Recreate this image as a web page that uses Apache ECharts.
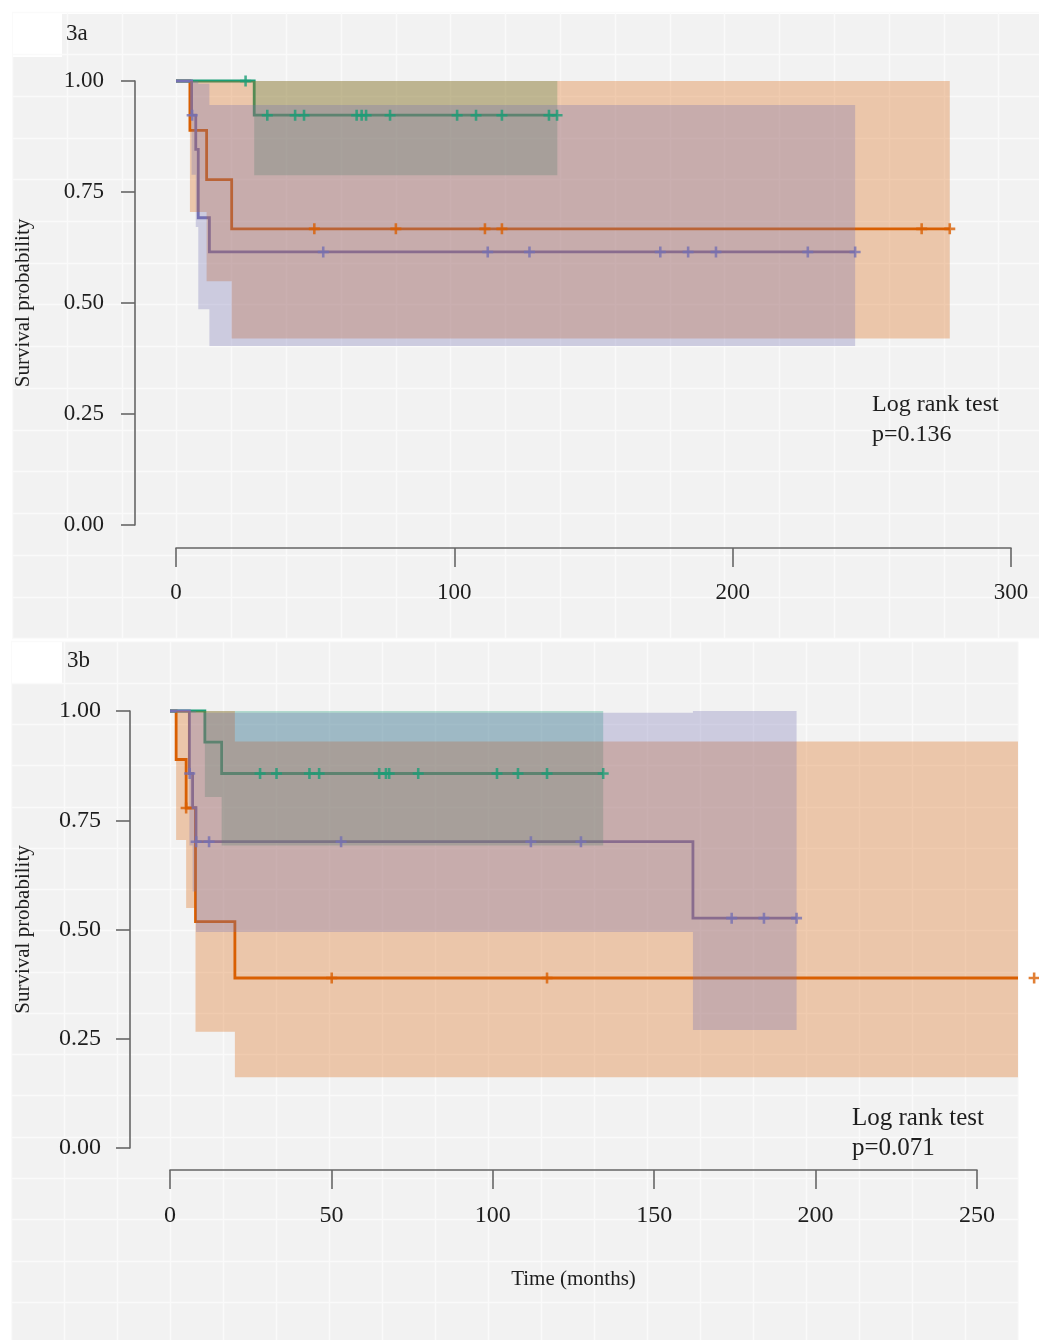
<!DOCTYPE html>
<html>
<head>
<meta charset="utf-8">
<script src="https://cdn.jsdelivr.net/npm/echarts@6/dist/echarts.min.js"></script>
<style>
  html, body { margin: 0; padding: 0; background: #fff; }
  #chart { width: 1039px; height: 1340px; }
</style>
</head>
<body>
<div id="chart"></div>
<script>
// ---- panel 3a : step curves (time, survival) and confidence bands ----
var aGreenT  = [0, 28.1, 137];
var aGreenS  = [1, 0.923, 0.923];
var aGreenLo = [1, 0.788, 0.788];
var aGreenUp = [1, 1, 1];
var aGreenCensT = [25, 32.8, 42.8, 46, 64.9, 66.7, 68.3, 76.9, 101, 107.8, 117.1, 134, 136.9];
var aGreenCensS = [1, 0.923, 0.923, 0.923, 0.923, 0.923, 0.923, 0.923, 0.923, 0.923, 0.923, 0.923, 0.923];

var aOrangeT  = [0, 5, 11, 20, 278];
var aOrangeS  = [1, 0.889, 0.778, 0.667, 0.667];
var aOrangeLo = [1, 0.705, 0.549, 0.42, 0.42];
var aOrangeUp = [1, 1, 1, 1, 1];
var aOrangeCensT = [49.7, 79, 111, 117.1, 267.9, 278];
var aOrangeCensS = [0.667, 0.667, 0.667, 0.667, 0.667, 0.667];

var aPurpleT  = [0, 5.6, 7.1, 8.0, 12.0, 244];
var aPurpleS  = [1, 0.923, 0.846, 0.692, 0.615, 0.615];
var aPurpleLo = [1, 0.789, 0.671, 0.486, 0.403, 0.403];
var aPurpleUp = [1, 1, 1, 0.994, 0.946, 0.946];
var aPurpleCensT = [5.8, 52.9, 112, 127, 174, 184, 194, 227, 244];
var aPurpleCensS = [0.923, 0.615, 0.615, 0.615, 0.615, 0.615, 0.615, 0.615, 0.615];

// ---- panel 3b ----
var bGreenT  = [0, 10.8, 16.0, 134.2];
var bGreenS  = [1, 0.929, 0.857, 0.857];
var bGreenLo = [1, 0.803, 0.692, 0.692];
var bGreenUp = [1, 1, 1, 1];
var bGreenCensT = [27.9, 33.0, 43.2, 46.2, 64.8, 66.9, 67.9, 76.9, 101.3, 107.8, 116.8, 134.2];
var bGreenCensS = [0.857, 0.857, 0.857, 0.857, 0.857, 0.857, 0.857, 0.857, 0.857, 0.857, 0.857, 0.857];

var bOrangeT  = [0, 1.9, 5.0, 7.9, 20.1, 262.7];
var bOrangeS  = [1, 0.889, 0.778, 0.518, 0.389, 0.389];
var bOrangeLo = [1, 0.705, 0.549, 0.266, 0.162, 0.162];
var bOrangeUp = [1, 1, 1, 1, 0.93, 0.93];
var bOrangeCensT = [5.0, 50.1, 116.8, 267.7];
var bOrangeCensS = [0.778, 0.389, 0.389, 0.389];

var bPurpleT  = [0, 6.0, 7.0, 8.05, 162, 194.1];
var bPurpleS  = [1, 0.857, 0.779, 0.701, 0.526, 0.526];
var bPurpleLo = [1, 0.692, 0.587, 0.494, 0.27, 0.27];
var bPurpleUp = [1, 1, 1, 0.996, 1, 1];
var bPurpleCensT = [6.1, 8.1, 12.1, 53, 111.8, 127.3, 174, 184, 194.1];
var bPurpleCensS = [0.857, 0.701, 0.701, 0.701, 0.701, 0.701, 0.526, 0.526, 0.526];

var panelLabels = ['3a', '3b'];
var logRank = [['Log rank test', 'p=0.136'], ['Log rank test', 'p=0.071']];
var xTicksA = [0, 300, 100];
var xTicksB = [0, 250, 50];

var GREEN = '#1b9e77', ORANGE = '#d95f02', PURPLE = '#7570b3';
var SERIF = '"Liberation Serif", "Times New Roman", serif';
var INK = '#1e1e1e';

function pairs(t, s) {
  return t.map(function (v, i) { return [v, s[i]]; });
}

// Kaplan-Meier step line (drawn as one polyline, not clamped to the axis range)
function curve(ax, t, s, color) {
  return {
    type: 'custom', xAxisIndex: ax, yAxisIndex: ax, silent: true, z: 2, clip: false,
    data: pairs(t, s),
    encode: { x: 0, y: 1 },
    renderItem: function (params, api) {
      if (params.dataIndexInside !== 0) return null;
      var n = params.dataInsideLength;
      var pts = [api.coord([api.value(0, 0), api.value(1, 0)])];
      for (var i = 1; i < n; i++) {
        pts.push(api.coord([api.value(0, i), api.value(1, i - 1)]));
        pts.push(api.coord([api.value(0, i), api.value(1, i)]));
      }
      return {
        type: 'polyline',
        shape: { points: pts },
        style: { stroke: color, lineWidth: 2.8, fill: null }
      };
    }
  };
}

// confidence band as one step polygon
function band(ax, t, lo, up, fill) {
  return {
    type: 'custom', xAxisIndex: ax, yAxisIndex: ax, silent: true, z: 3, clip: false,
    data: t.map(function (v, i) { return [v, lo[i], up[i]]; }),
    encode: { x: 0, y: [1, 2] },
    renderItem: function (params, api) {
      if (params.dataIndexInside !== 0) return null;
      var n = params.dataInsideLength;
      var top = [], bot = [];
      for (var i = 0; i < n - 1; i++) {
        var t0 = api.value(0, i), t1 = api.value(0, i + 1);
        top.push(api.coord([t0, api.value(2, i)]), api.coord([t1, api.value(2, i)]));
        bot.push(api.coord([t0, api.value(1, i)]), api.coord([t1, api.value(1, i)]));
      }
      return {
        type: 'polygon',
        shape: { points: top.concat(bot.reverse()) },
        style: { fill: fill }
      };
    }
  };
}

var PLUS = 'path://M-1.4,-6h2.8v4.6h4.6v2.8h-4.6v4.6h-2.8v-4.6h-4.6v-2.8h4.6z';
function censor(ax, t, s, color) {
  return {
    type: 'scatter', xAxisIndex: ax, yAxisIndex: ax, silent: true, z: 4, clip: false,
    symbol: PLUS, symbolSize: 11,
    data: pairs(t, s),
    itemStyle: { color: color }
  };
}

function xMain(grid, ticks, offset, margin, fs, name) {
  return {
    gridIndex: grid, type: 'value', min: ticks[0], max: ticks[1], interval: ticks[2],
    offset: offset, z: 6,
    axisLine: { show: true, onZero: false, lineStyle: { color: '#666', width: 1.6 } },
    axisTick: { show: true, length: 19, lineStyle: { color: '#666', width: 1.6 } },
    axisLabel: { margin: margin, fontSize: fs, color: INK, fontFamily: SERIF },
    splitLine: { show: false },
    name: name || '', nameLocation: 'middle', nameGap: 99,
    nameTextStyle: { fontSize: 21, color: INK, fontFamily: SERIF }
  };
}

function yMain(grid, offset, margin, fs, gap) {
  return {
    gridIndex: grid, type: 'value', min: 0, max: 1, interval: 0.25,
    offset: offset, z: 6,
    axisLine: { show: true, onZero: false, lineStyle: { color: '#666', width: 1.6 } },
    axisTick: { show: true, length: 14, lineStyle: { color: '#666', width: 1.6 } },
    axisLabel: {
      margin: margin, fontSize: fs, color: INK, fontFamily: SERIF,
      formatter: function (v) { return v.toFixed(2); }
    },
    splitLine: { show: false },
    name: 'Survival probability', nameLocation: 'middle', nameGap: gap,
    nameTextStyle: { fontSize: 21, color: INK, fontFamily: SERIF }
  };
}

// background paper grid (white lines on grey)
function paperAxis(grid, max) {
  return {
    gridIndex: grid, type: 'value', min: 0, max: max, interval: 1, z: 0, silent: true,
    axisLine: { show: false }, axisTick: { show: false }, axisLabel: { show: false },
    splitLine: { show: true, lineStyle: { color: '#fafafa', width: 1.3 } }
  };
}

var myChart = echarts.init(document.getElementById('chart'), null, { renderer: 'canvas' });

var option = {
  animation: false,
  backgroundColor: '#ffffff',
  textStyle: { fontFamily: SERIF },
  grid: [
    { left: 176, top: 81, width: 835, height: 444, outerBoundsMode: 'none' },
    { left: 170, top: 711, width: 807, height: 437, outerBoundsMode: 'none' },
    { left: 12.2, top: 12.6, width: 1041.2, height: 625.9, outerBoundsMode: 'none' },
    { left: 11, top: 641.7, width: 1007, height: 701.6, outerBoundsMode: 'none' }
  ],
  xAxis: [
    xMain(0, xTicksA, 23, 33, 23),
    xMain(1, xTicksB, 22, 34, 24, 'Time (months)'),
    paperAxis(2, 19),
    paperAxis(3, 19)
  ],
  yAxis: [
    yMain(0, 41, 31, 23, 101),
    yMain(1, 40, 29, 24, 96),
    paperAxis(2, 15),
    paperAxis(3, 17)
  ],
  graphic: {
    elements: [
      { type: 'polygon', z: -10, silent: true,
        shape: { points: [[62, 14], [1039, 14], [1039, 638], [12, 638], [12, 57], [62, 57]] },
        style: { fill: '#f2f2f2' } },
      { type: 'polygon', z: -10, silent: true,
        shape: { points: [[62, 642], [1018, 642], [1018, 1340], [12, 1340], [12, 683], [62, 683]] },
        style: { fill: '#f2f2f2' } },
      { type: 'text', x: 66, y: 34, z: 10,
        style: { text: panelLabels[0], font: '23px ' + SERIF, fill: INK, verticalAlign: 'middle' } },
      { type: 'text', x: 67, y: 661, z: 10,
        style: { text: panelLabels[1], font: '23px ' + SERIF, fill: INK, verticalAlign: 'middle' } },
      { type: 'text', x: 872, y: 405, z: 10,
        style: { text: logRank[0][0], font: '24px ' + SERIF, fill: INK, verticalAlign: 'middle' } },
      { type: 'text', x: 872, y: 435, z: 10,
        style: { text: logRank[0][1], font: '24px ' + SERIF, fill: INK, verticalAlign: 'middle' } },
      { type: 'text', x: 852, y: 1118, z: 10,
        style: { text: logRank[1][0], font: '25px ' + SERIF, fill: INK, verticalAlign: 'middle' } },
      { type: 'text', x: 852, y: 1148, z: 10,
        style: { text: logRank[1][1], font: '25px ' + SERIF, fill: INK, verticalAlign: 'middle' } }
    ]
  },
  series: [
    // 3a : lines, then bands (green, orange, purple), then censor ticks
    curve(0, aOrangeT, aOrangeS, ORANGE),
    curve(0, aGreenT, aGreenS, GREEN),
    curve(0, aPurpleT, aPurpleS, PURPLE),
    band(0, aGreenT, aGreenLo, aGreenUp, 'rgba(27,158,119,0.3)'),
    band(0, aOrangeT, aOrangeLo, aOrangeUp, 'rgba(217,95,2,0.3)'),
    band(0, aPurpleT, aPurpleLo, aPurpleUp, 'rgba(117,112,179,0.3)'),
    censor(0, aOrangeCensT, aOrangeCensS, ORANGE),
    censor(0, aGreenCensT, aGreenCensS, GREEN),
    censor(0, aPurpleCensT, aPurpleCensS, PURPLE),
    // 3b
    curve(1, bOrangeT, bOrangeS, ORANGE),
    curve(1, bGreenT, bGreenS, GREEN),
    curve(1, bPurpleT, bPurpleS, PURPLE),
    band(1, bGreenT, bGreenLo, bGreenUp, 'rgba(27,158,119,0.3)'),
    band(1, bOrangeT, bOrangeLo, bOrangeUp, 'rgba(217,95,2,0.3)'),
    band(1, bPurpleT, bPurpleLo, bPurpleUp, 'rgba(117,112,179,0.3)'),
    censor(1, bOrangeCensT, bOrangeCensS, ORANGE),
    censor(1, bGreenCensT, bGreenCensS, GREEN),
    censor(1, bPurpleCensT, bPurpleCensS, PURPLE)
  ]
};

myChart.setOption(option);
</script>
</body>
</html>
